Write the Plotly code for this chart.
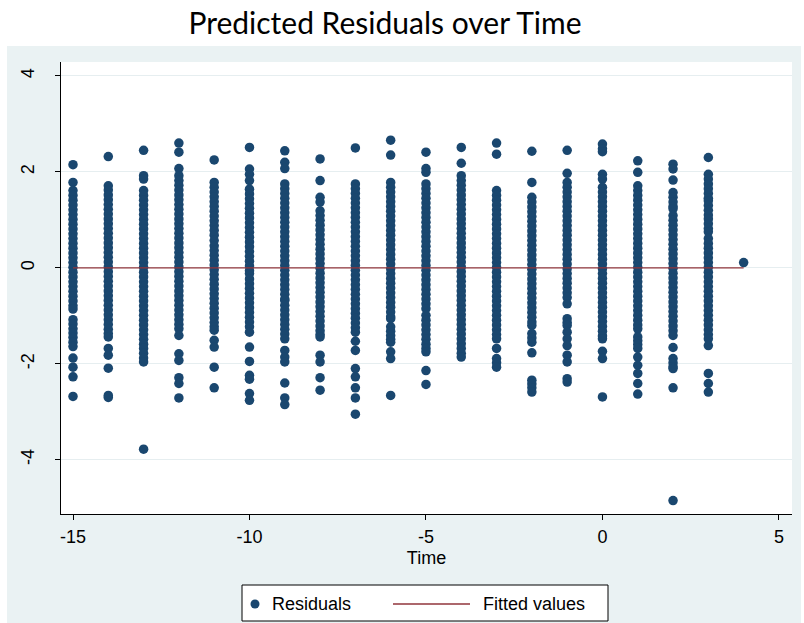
import plotly.graph_objects as go

# ---------------- data ----------------
times = [-15, -14, -13, -12, -11, -10, -9, -8, -7, -6, -5, -4, -3, -2, -1, 0, 1, 2, 3, 4]

res_m15 = [2.15, 1.78, 1.61, 1.51, 1.41, 1.31, 1.21, 1.11, 1.01, 0.91, 0.81, 0.71, 0.61, 0.51, 0.41, 0.31, 0.21, 0.11, 0.01, -0.09, -0.19, -0.29, -0.39, -0.49, -0.59, -0.69, -0.79, -0.86, -1.08, -1.17, -1.27, -1.36, -1.45, -1.55, -1.64, -1.88, -2.07, -2.27, -2.68]
res_m14 = [2.32, 1.71, 1.62, 1.52, 1.42, 1.32, 1.22, 1.12, 1.02, 0.92, 0.82, 0.72, 0.62, 0.52, 0.42, 0.32, 0.22, 0.12, 0.02, -0.08, -0.18, -0.28, -0.38, -0.48, -0.58, -0.68, -0.78, -0.88, -0.98, -1.08, -1.18, -1.28, -1.37, -1.44, -1.68, -1.82, -2.09, -2.66, -2.70]
res_m13 = [2.45, 1.92, 1.85, 1.61, 1.51, 1.41, 1.31, 1.21, 1.11, 1.01, 0.91, 0.81, 0.71, 0.61, 0.51, 0.41, 0.31, 0.21, 0.11, 0.01, -0.09, -0.19, -0.29, -0.39, -0.49, -0.59, -0.69, -0.79, -0.89, -0.99, -1.09, -1.19, -1.29, -1.39, -1.49, -1.59, -1.68, -1.78, -1.88, -1.96, -3.78]
res_m12 = [2.60, 2.41, 2.07, 1.92, 1.82, 1.72, 1.62, 1.52, 1.42, 1.32, 1.22, 1.12, 1.02, 0.92, 0.82, 0.72, 0.62, 0.52, 0.42, 0.32, 0.22, 0.12, 0.02, -0.08, -0.18, -0.28, -0.38, -0.48, -0.58, -0.68, -0.78, -0.88, -0.98, -1.08, -1.18, -1.27, -1.41, -1.79, -1.93, -2.29, -2.41, -2.71]
res_m11 = [2.25, 1.78, 1.68, 1.58, 1.48, 1.38, 1.28, 1.18, 1.08, 0.98, 0.88, 0.78, 0.68, 0.57, 0.46, 0.36, 0.26, 0.16, 0.06, -0.04, -0.14, -0.24, -0.34, -0.44, -0.54, -0.64, -0.74, -0.84, -0.94, -1.04, -1.14, -1.23, -1.30, -1.51, -1.65, -2.07, -2.50]
res_m10 = [2.51, 2.06, 1.95, 1.82, 1.64, 1.54, 1.44, 1.34, 1.24, 1.14, 1.04, 0.94, 0.84, 0.74, 0.64, 0.54, 0.44, 0.34, 0.24, 0.14, 0.04, -0.06, -0.12, -0.23, -0.33, -0.43, -0.53, -0.63, -0.73, -0.83, -0.93, -1.03, -1.13, -1.23, -1.34, -1.65, -1.95, -2.24, -2.32, -2.62, -2.76]
res_m9 = [2.44, 2.20, 2.07, 1.75, 1.65, 1.55, 1.45, 1.35, 1.25, 1.15, 1.05, 0.95, 0.85, 0.75, 0.65, 0.55, 0.45, 0.35, 0.25, 0.15, 0.05, -0.05, -0.15, -0.25, -0.35, -0.45, -0.55, -0.65, -0.68, -0.78, -0.88, -0.98, -1.08, -1.18, -1.28, -1.38, -1.48, -1.72, -1.86, -1.96, -2.40, -2.71, -2.85]
res_m8 = [2.27, 1.82, 1.47, 1.37, 1.19, 1.09, 0.99, 0.89, 0.79, 0.69, 0.59, 0.49, 0.39, 0.29, 0.19, 0.09, -0.01, -0.11, -0.21, -0.31, -0.41, -0.51, -0.61, -0.71, -0.81, -0.91, -1.01, -1.11, -1.21, -1.31, -1.39, -1.44, -1.82, -1.96, -2.29, -2.55]
res_m7 = [2.50, 1.75, 1.65, 1.55, 1.45, 1.35, 1.25, 1.15, 1.05, 0.95, 0.85, 0.75, 0.65, 0.55, 0.45, 0.35, 0.25, 0.15, 0.05, -0.05, -0.15, -0.25, -0.35, -0.45, -0.55, -0.65, -0.75, -0.85, -0.95, -1.05, -1.15, -1.25, -1.34, -1.53, -1.72, -2.10, -2.27, -2.50, -2.71, -3.05]
res_m6 = [2.66, 2.35, 1.78, 1.68, 1.58, 1.48, 1.38, 1.28, 1.18, 1.08, 0.98, 0.88, 0.78, 0.68, 0.58, 0.48, 0.38, 0.28, 0.18, 0.08, -0.02, -0.12, -0.22, -0.32, -0.42, -0.52, -0.62, -0.72, -0.82, -0.92, -1.02, -1.06, -1.23, -1.32, -1.41, -1.49, -1.55, -1.75, -1.89, -2.66]
res_m5 = [2.41, 2.07, 1.99, 1.75, 1.65, 1.55, 1.45, 1.35, 1.25, 1.15, 1.05, 0.95, 0.85, 0.75, 0.65, 0.55, 0.45, 0.35, 0.25, 0.15, 0.05, -0.05, -0.15, -0.25, -0.35, -0.45, -0.55, -0.65, -0.75, -0.85, -0.99, -1.09, -1.19, -1.29, -1.39, -1.49, -1.59, -1.68, -1.75, -2.14, -2.43]
res_m4 = [2.51, 2.18, 1.92, 1.82, 1.72, 1.62, 1.52, 1.42, 1.32, 1.22, 1.12, 1.02, 0.92, 0.82, 0.72, 0.62, 0.52, 0.42, 0.32, 0.22, 0.12, 0.02, -0.08, -0.18, -0.28, -0.38, -0.48, -0.58, -0.68, -0.78, -0.88, -0.98, -1.08, -1.18, -1.28, -1.38, -1.48, -1.58, -1.68, -1.78, -1.86]
res_m3 = [2.60, 2.37, 1.61, 1.51, 1.41, 1.31, 1.21, 1.11, 1.01, 0.91, 0.81, 0.71, 0.61, 0.51, 0.41, 0.31, 0.21, 0.11, 0.01, -0.09, -0.19, -0.29, -0.39, -0.49, -0.59, -0.69, -0.79, -0.89, -0.99, -1.09, -1.19, -1.29, -1.39, -1.48, -1.68, -1.89, -1.98, -2.07]
res_m2 = [2.43, 1.78, 1.47, 1.37, 1.27, 1.17, 1.07, 0.97, 0.87, 0.77, 0.67, 0.57, 0.47, 0.37, 0.27, 0.17, 0.07, -0.03, -0.13, -0.23, -0.33, -0.43, -0.53, -0.63, -0.73, -0.83, -0.93, -1.03, -1.13, -1.20, -1.37, -1.46, -1.55, -1.77, -2.34, -2.42, -2.50, -2.59]
res_m1 = [2.45, 1.97, 1.78, 1.68, 1.58, 1.48, 1.38, 1.28, 1.18, 1.08, 0.98, 0.88, 0.78, 0.68, 0.58, 0.48, 0.38, 0.28, 0.18, 0.08, -0.02, -0.12, -0.22, -0.32, -0.42, -0.52, -0.62, -0.75, -1.06, -1.14, -1.20, -1.34, -1.48, -1.62, -1.82, -1.96, -2.31, -2.38]
res_0 = [2.58, 2.48, 2.42, 1.95, 1.85, 1.68, 1.58, 1.48, 1.38, 1.28, 1.18, 1.08, 0.98, 0.88, 0.78, 0.68, 0.58, 0.48, 0.38, 0.28, 0.18, 0.08, -0.02, -0.12, -0.22, -0.32, -0.42, -0.52, -0.62, -0.72, -0.82, -0.92, -1.02, -1.12, -1.22, -1.32, -1.42, -1.48, -1.74, -1.89, -2.69]
res_1 = [2.23, 1.99, 1.71, 1.61, 1.51, 1.41, 1.31, 1.21, 1.11, 1.01, 0.91, 0.81, 0.71, 0.61, 0.51, 0.41, 0.31, 0.21, 0.11, 0.01, -0.09, -0.19, -0.29, -0.39, -0.49, -0.59, -0.69, -0.79, -0.89, -0.99, -1.09, -1.19, -1.27, -1.44, -1.52, -1.60, -1.68, -1.86, -2.03, -2.20, -2.41, -2.63]
res_2 = [2.16, 2.06, 1.83, 1.57, 1.47, 1.37, 1.28, 1.23, 1.09, 0.99, 0.89, 0.79, 0.69, 0.59, 0.49, 0.39, 0.29, 0.19, 0.09, -0.01, -0.11, -0.21, -0.31, -0.41, -0.51, -0.61, -0.71, -0.81, -0.91, -1.01, -1.11, -1.21, -1.31, -1.41, -1.66, -1.89, -1.98, -2.06, -2.10, -2.50, -4.85]
res_3 = [2.30, 1.95, 1.85, 1.75, 1.65, 1.55, 1.45, 1.40, 1.30, 1.20, 1.10, 1.02, 0.92, 0.82, 0.75, 0.61, 0.51, 0.41, 0.31, 0.21, 0.11, 0.01, -0.09, -0.19, -0.29, -0.39, -0.49, -0.59, -0.69, -0.79, -0.89, -0.99, -1.09, -1.19, -1.29, -1.39, -1.48, -1.62, -2.20, -2.41, -2.59]
res_4 = [0.11]

residual_columns = [res_m15, res_m14, res_m13, res_m12, res_m11, res_m10, res_m9, res_m8,
                    res_m7, res_m6, res_m5, res_m4, res_m3, res_m2, res_m1, res_0,
                    res_1, res_2, res_3, res_4]

fit_time = [-15, 4]
fit_values = [0.0, 0.0]

x_ticks = [-15, -10, -5, 0, 5]
x_ticklabels = ["-15", "-10", "-5", "0", "5"]
y_ticks = [-4, -2, 0, 2, 4]
y_ticklabels = ["-4", "-2", "0", "2", "4"]

# ---------------- build ----------------
xs, ys = [], []
for t, col in zip(times, residual_columns):
    xs.extend([t] * len(col))
    ys.extend(col)

NAVY = "#1A476F"
MAROON = "#90353B"
BG = "#EAF2F3"
FONT = "Liberation Sans, Arial, sans-serif"

# plot area in pixels
L, R, T, B = 61, 792, 62, 514
W_, H_ = R - L, B - T


def px(xp):
    return (xp - L) / W_


def py(yp):
    return (B - yp) / H_


fig = go.Figure()
fig.add_trace(go.Scatter(x=xs, y=ys, mode="markers", name="Residuals",
                         marker=dict(color=NAVY, size=9.5, line=dict(width=0)),
                         showlegend=False))
fig.add_trace(go.Scatter(x=fit_time, y=fit_values, mode="lines", name="Fitted values",
                         line=dict(color=MAROON, width=1.3), showlegend=False))

shapes = [
    dict(type="rect", xref="paper", yref="paper", x0=px(0), x1=px(804), y0=py(46), y1=py(0),
         fillcolor="white", line=dict(width=0), layer="below"),
    dict(type="rect", xref="paper", yref="paper", x0=px(0), x1=px(7), y0=py(623), y1=py(0),
         fillcolor="white", line=dict(width=0), layer="below"),
    dict(type="rect", xref="paper", yref="paper", x0=px(801), x1=px(804), y0=py(623), y1=py(0),
         fillcolor="white", line=dict(width=0), layer="below"),
    dict(type="rect", xref="paper", yref="paper", x0=px(242), x1=px(608), y0=py(621), y1=py(585),
         fillcolor="white", line=dict(color="black", width=1)),
    dict(type="circle", xref="paper", yref="paper", xsizemode="pixel", ysizemode="pixel",
         xanchor=px(255), yanchor=py(604), x0=-4.5, x1=4.5, y0=-4.5, y1=4.5,
         fillcolor=NAVY, line=dict(width=0)),
    dict(type="line", xref="paper", yref="paper", x0=px(393), x1=px(470), y0=py(604), y1=py(604),
         line=dict(color=MAROON, width=1.3)),
]

annotations = [
    dict(text="Residuals", xref="paper", yref="paper", x=px(270), y=py(604),
         xanchor="left", yanchor="middle", showarrow=False,
         font=dict(family=FONT, size=18, color="black")),
    dict(text="Fitted values", xref="paper", yref="paper", x=px(481), y=py(604),
         xanchor="left", yanchor="middle", showarrow=False,
         font=dict(family=FONT, size=18, color="black")),
]

fig.update_layout(
    width=804, height=623,
    margin=dict(l=L, r=804 - R, t=T, b=623 - B, pad=0, autoexpand=False),
    paper_bgcolor=BG,
    plot_bgcolor="white",
    showlegend=False,
    title=dict(text="Predicted Residuals over Time", x=385 / 804, xanchor="center",
               y=1 - 23 / 623, yanchor="middle", xref="container", yref="container",
               automargin=False,
               font=dict(family="Lato, sans-serif", size=30, color="black")),
    shapes=shapes,
    annotations=annotations,
    xaxis=dict(range=[-15.34, 5.37], tickvals=x_ticks, ticktext=x_ticklabels,
               ticks="outside", ticklen=5, automargin=False,
               tickcolor="black", showline=True, linecolor="black", linewidth=1,
               showgrid=False, zeroline=False,
               tickfont=dict(family=FONT, size=18, color="black"),
               ticklabelstandoff=1,
               title=dict(text="Time", font=dict(family=FONT, size=18, color="black"), standoff=5)),
    yaxis=dict(range=[-5.13, 4.29], tickvals=y_ticks, ticktext=y_ticklabels,
               ticks="outside", ticklen=5, automargin=False,
               tickcolor="black", showline=True, linecolor="black", linewidth=1,
               showgrid=True, gridcolor="#E6EEF0", gridwidth=1, zeroline=False,
               tickangle=-90,
               tickfont=dict(family=FONT, size=18, color="black"),
               ticklabelstandoff=14),
)

fig.write_html("out.html", config={"displayModeBar": False},
               post_script="document.body.style.margin='0';")
